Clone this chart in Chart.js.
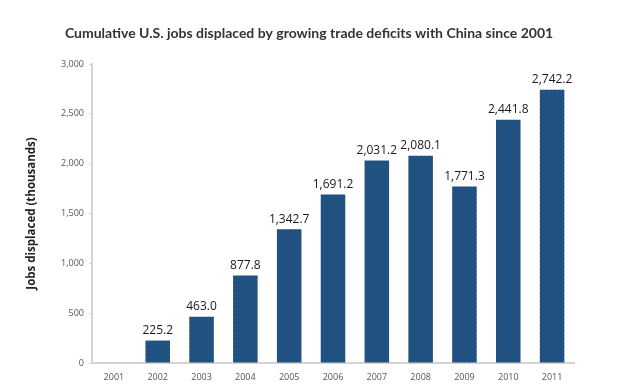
<!DOCTYPE html>
<html>
<head>
<meta charset="utf-8">
<script src="https://cdn.jsdelivr.net/npm/chart.js@4/dist/chart.umd.min.js"></script>
<style>
  html, body { margin:0; padding:0; background:#fff; }
  #wrap { width:618px; height:385px; }
</style>
</head>
<body>
<div id="wrap"><canvas id="chart" width="618" height="385"></canvas></div>
<script>
const years = ["2001","2002","2003","2004","2005","2006","2007","2008","2009","2010","2011"];
const jobsDisplaced = [0, 225.2, 463.0, 877.8, 1342.7, 1691.2, 2031.2, 2080.1, 1771.3, 2441.8, 2742.2];
const yTicks = [0, 500, 1000, 1500, 2000, 2500, 3000];
const titleText = "Cumulative U.S. jobs displaced by growing trade deficits with China since 2001";

const fmt = v => v.toLocaleString("en-US", { minimumFractionDigits:1, maximumFractionDigits:1 });

// hatched dark blue fill like the original bars
function hatch(){
  const c = document.createElement("canvas");
  c.width = 4; c.height = 4;
  const g = c.getContext("2d");
  g.fillStyle = "#1d4e7e";
  g.fillRect(0,0,4,4);
  g.strokeStyle = "#2a5c8b";
  g.lineWidth = 1;
  g.beginPath();
  g.moveTo(0,4); g.lineTo(4,0);
  g.moveTo(-1,1); g.lineTo(1,-1);
  g.moveTo(3,5); g.lineTo(5,3);
  g.stroke();
  return g.createPattern(c, "repeat");
}

// title centred on the whole canvas, labels above the bars
const extras = {
  id: "extras",
  afterDraw(chart){
    const ctx = chart.ctx;
    ctx.save();
    ctx.font = "bold 14px Lato, sans-serif";
    ctx.fillStyle = "#333";
    ctx.textAlign = "center";
    ctx.textBaseline = "middle";
    ctx.fillText(titleText, chart.width / 2, 33);

    const meta = chart.getDatasetMeta(0);
    ctx.font = "12px 'Open Sans', sans-serif";
    ctx.fillStyle = "#1a1a1a";
    ctx.textBaseline = "bottom";
    meta.data.forEach((bar, i) => {
      const v = jobsDisplaced[i];
      if(!v) return;
      ctx.fillText(fmt(v), bar.x, bar.y - 4);
    });
    ctx.restore();
  }
};

const axisFont = { family:"'Open Sans', sans-serif", size:9 };

new Chart(document.getElementById("chart"), {
  type: "bar",
  data: {
    labels: years,
    datasets: [{
      data: jobsDisplaced,
      backgroundColor: hatch(),
      barPercentage: 0.56,
      categoryPercentage: 1
    }]
  },
  options: {
    responsive: false,
    animation: false,
    layout: { padding: { left:0, right:44, top:64, bottom:0 } },
    plugins: {
      legend: { display:false },
      tooltip: { enabled:false },
      title: { display:false }
    },
    scales: {
      x: {
        grid: { display:false },
        border: { color:"#d4d4d4", width:2 },
        ticks: { color:"#555", font:axisFont, padding:1 },
        afterFit: s => { s.height = 22; }
      },
      y: {
        min: 0, max: 3000,
        afterBuildTicks: s => { s.ticks = yTicks.map(v => ({ value:v })); },
        grid: { drawOnChartArea:false, tickLength:3, color:"#d4d4d4" },
        border: { color:"#d4d4d4", width:2 },
        ticks: { color:"#555", font:axisFont, padding:5, callback: v => v.toLocaleString("en-US") },
        title: {
          display: true,
          text: "Jobs displaced (thousands)",
          color: "#222",
          font: { family:"'Open Sans', sans-serif", size:11.5, weight:"bold" },
          padding: { top:25, bottom:0 }
        },
        afterFit: s => { s.width = 92; }
      }
    }
  },
  plugins: [extras]
});
</script>
</body>
</html>
